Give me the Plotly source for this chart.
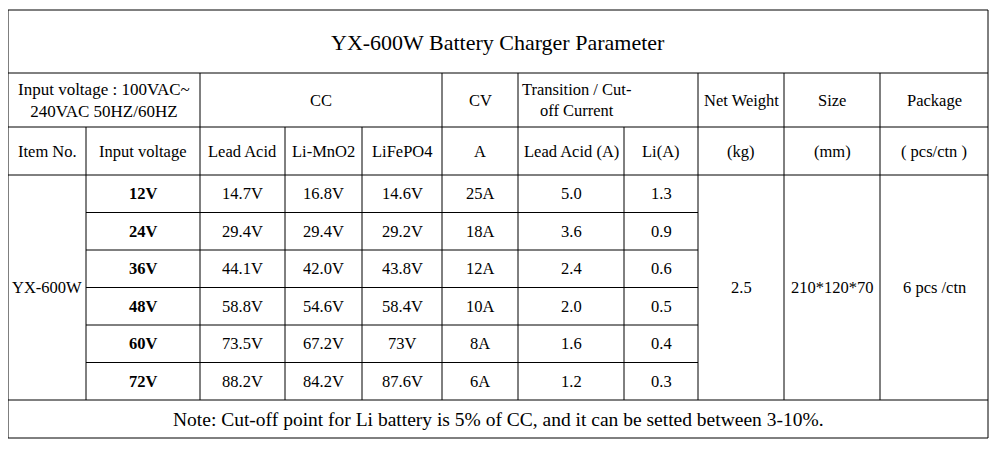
import plotly.graph_objects as go

title = "YX-600W Battery Charger Parameter"
item_no = "YX-600W"
input_v = ["12V", "24V", "36V", "48V", "60V", "72V"]
lead_acid = ["14.7V", "29.4V", "44.1V", "58.8V", "73.5V", "88.2V"]
li_mno2 = ["16.8V", "29.4V", "42.0V", "54.6V", "67.2V", "84.2V"]
lifepo4 = ["14.6V", "29.2V", "43.8V", "58.4V", "73V", "87.6V"]
cv_a = ["25A", "18A", "12A", "10A", "8A", "6A"]
trans_lead = ["5.0", "3.6", "2.4", "2.0", "1.6", "1.2"]
trans_li = ["1.3", "0.9", "0.6", "0.5", "0.4", "0.3"]
net_weight = "2.5"
size = "210*120*70"
package = "6 pcs /ctn"
note = "Note: Cut-off point for Li battery is 5% of CC, and it can be setted between 3-10%."

# layout geometry (pixels)
X = [8, 86, 200, 285, 362, 442, 518, 624, 698, 784, 880, 988]
Y_TOP, Y_H1, Y_H2, Y_D = 10, 73, 127, 175
ROW_H = 37.5
Y_NOTE = Y_D + 6 * ROW_H
Y_BOT = 438

shapes = []
def line(x0, y0, x1, y1):
    shapes.append(dict(type="line", x0=x0, y0=y0, x1=x1, y1=y1, xref="x", yref="y",
                       line=dict(color="black", width=1)))

line(X[0], Y_TOP, X[-1], Y_TOP); line(X[0], Y_BOT, X[-1], Y_BOT)
line(X[0], Y_TOP, X[0], Y_BOT); line(X[-1], Y_TOP, X[-1], Y_BOT)
line(X[0], Y_H1, X[-1], Y_H1)
line(X[0], Y_H2, X[-1], Y_H2)
line(X[0], Y_D, X[-1], Y_D)
line(X[0], Y_NOTE, X[-1], Y_NOTE)
for i in range(1, 6):
    y = Y_D + i * ROW_H
    line(X[1], y, X[8], y)
for xv in [X[2], X[5], X[6], X[8], X[9], X[10]]:
    line(xv, Y_H1, xv, Y_H2)
for xv in X[1:11]:
    line(xv, Y_H2, xv, Y_NOTE)

ann = []
FONT = "Liberation Serif"
BODY = 16.5
def txt(x, y, s, size=BODY, bold=False, xanchor="center"):
    if bold:
        s = "<b>" + s + "</b>"
    ann.append(dict(x=x, y=y, text=s, xref="x", yref="y", showarrow=False,
                    xanchor=xanchor, yanchor="middle",
                    font=dict(family=FONT, size=size, color="black")))

def cx(i, j=None):
    j = i + 1 if j is None else j
    return (X[i] + X[j]) / 2

txt((X[0] + X[-1]) / 2, (Y_TOP + Y_H1) / 2 + 1, title, size=22)
h1y = (Y_H1 + Y_H2) / 2
txt(cx(0, 2), h1y, "Input voltage : 100VAC~<br>240VAC 50HZ/60HZ", size=17)
txt(cx(2, 5), h1y, "CC")
txt(cx(5), h1y, "CV")
txt(X[6] + 2, h1y, "Transition / Cut-<br>off Current", xanchor="left")
txt(cx(8), h1y, "Net Weight")
txt(cx(9), h1y, "Size")
txt(cx(10), h1y, "Package")
h2y = (Y_H2 + Y_D) / 2
for i, s in enumerate(["Item No.", "Input voltage", "Lead Acid", "Li-MnO2", "LiFePO4", "A",
                       "Lead Acid (A)", "Li(A)", "(kg)", "(mm)", "( pcs/ctn )"]):
    txt(cx(i), h2y, s)
for r in range(6):
    y = Y_D + (r + 0.5) * ROW_H
    txt(cx(1), y, input_v[r], bold=True)
    for c, arr in zip(range(2, 8), [lead_acid, li_mno2, lifepo4, cv_a, trans_lead, trans_li]):
        txt(cx(c), y, arr[r])
ym = (Y_D + Y_NOTE) / 2
txt(cx(0), ym, item_no)
txt(cx(8), ym, net_weight)
txt(cx(9), ym, size)
txt(cx(10), ym, package)
txt((X[0] + X[-1]) / 2, (Y_NOTE + Y_BOT) / 2, note, size=19.5)

fig = go.Figure()
# page body has an 8px margin, so the axis ranges are offset to keep reference pixel coords
fig.update_layout(width=997, height=449, margin=dict(l=0, r=0, t=0, b=0),
                  paper_bgcolor="white", plot_bgcolor="white",
                  xaxis=dict(range=[8, 1005], visible=False, fixedrange=True),
                  yaxis=dict(range=[457, 8], visible=False, fixedrange=True),
                  shapes=shapes, annotations=ann, showlegend=False)
fig.write_html("out.html", config={"displayModeBar": False})
